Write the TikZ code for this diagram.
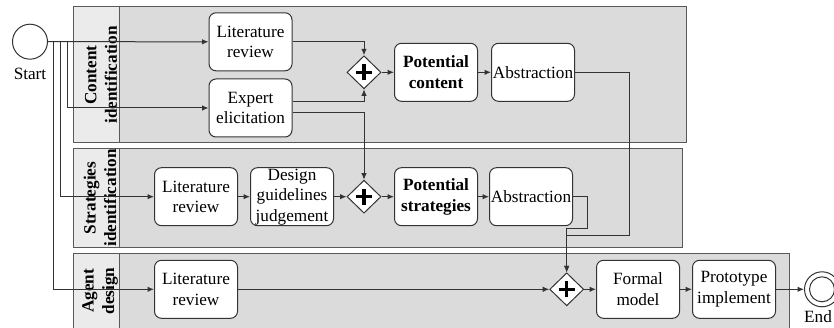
\documentclass[tikz,border=0pt]{standalone}
\usepackage{fontspec}
\setmainfont{Liberation Serif}
\usetikzlibrary{shapes.geometric,arrows.meta}

\definecolor{lanefill}{gray}{0.86}
\definecolor{headfill}{gray}{0.92}
\definecolor{laneline}{gray}{0.35}
\definecolor{flowline}{gray}{0.2}

\begin{document}
\begin{tikzpicture}[x=1pt,y=-1pt]
    \fontsize{17.2}{20.5}\selectfont
    \useasboundingbox (0,0) rectangle (834,328);

    \tikzstyle{lane}=[fill=lanefill,draw=laneline,line width=1pt]
    \tikzstyle{lanehead}=[fill=headfill,draw=laneline,line width=1pt]
    \tikzstyle{lanetitle}=[rotate=90,align=center,font=\bfseries,inner sep=0pt]
    \tikzstyle{task}=[draw=flowline,fill=white,rounded corners=7pt,line width=1pt,
        minimum width=83pt,minimum height=58pt,inner sep=0pt,align=center]
    \tikzstyle{gateway}=[diamond,draw=flowline,fill=white,line width=1pt,
        minimum width=34pt,minimum height=33pt,inner sep=0pt,
        path picture={\draw[line width=3.5pt,black]
            ([xshift=-8pt]path picture bounding box.center) -- ([xshift=8pt]path picture bounding box.center)
            ([yshift=-8pt]path picture bounding box.center) -- ([yshift=8pt]path picture bounding box.center);}]
    \tikzstyle{event}=[circle,draw=flowline,fill=white,line width=1pt,minimum size=35pt,inner sep=0pt]

    % lanes
    \draw [lane] (73,7) rectangle (686,143);
    \draw [lanehead] (73,7) rectangle (119,143);
    \draw [lane] (73,148.3) rectangle (682.7,247.7);
    \draw [lanehead] (73,148.3) rectangle (119,247.7);
    \draw [lane] (73,253.3) rectangle (789,345);
    \draw [lanehead] (73,253.3) rectangle (119,345);

    \node[lanetitle] (headA) at (101,75) {Content\\identification};
    \node[lanetitle] (headB) at (100,198) {Strategies\\identification};
    \node[lanetitle] (headC) at (100,291) {Agent\\design};

    % events
    \node[event]  (start) at (30,41.7) {};
    \node         (startlbl) at (30,74) {Start};
    \node[event]  (finish) at (822,289.3) {};
    \node[circle,draw=flowline,line width=1pt,minimum size=25pt] (finishin) at (finish) {};
    \node         (finishlbl) at (818,317) {End};

    % content identification
    \node[task]  (litA) at (250.5,41.8) {Literature\\review};
    \node[task]  (expert) at (250.5,108) {Expert\\elicitation};
    \node[gateway]  (joinA) at (364,72.3) {};
    \node[task]  (potcontent) at (436,72.3) {\bfseries Potential\\\bfseries content};
    \node[task]  (abstrA) at (533,72.3) {Abstraction};

    % strategies identification
    \node[task]  (litB) at (196,196.7) {Literature\\review};
    \node[task]  (design) at (292,196.7) {Design\\guidelines\\judgement};
    \node[gateway]  (joinB) at (364,196.7) {};
    \node[task]  (potstrat) at (436,196.7) {\bfseries Potential\\\bfseries strategies};
    \node[task]  (abstrB) at (531,196.7) {Abstraction};

    % agent design
    \node[task]  (litC) at (196,289.3) {Literature\\review};
    \node[gateway]  (joinC) at (566.7,289.3) {};
    \node[task]  (formal) at (638,289.3) {Formal\\model};
    \node[task]  (proto) at (734,289.3) {Prototype\\implement};

    \pgfsetarrowsend{Latex[length=6.5pt,width=5.5pt]}
    \tikzstyle{fwd} = [draw=flowline, line width=1pt]

          \draw [fwd] (start.east) -- (litA.west);
          \draw [fwd] (start.east) -- ++(19.7,0) |- (expert.west);
          \draw [fwd] (start.east) -- ++(12.7,0) |- (litB.west);
          \draw [fwd] (start.east) -- ++(5.7,0) |- (litC.west);
          \draw [fwd] (litA.east) -| (joinA.north);
          \draw [fwd] ([yshift=6.3pt]expert.east) -| (joinA.south);
          \draw [fwd] ([yshift=-4.3pt]expert.east) -| (joinB.north);
          \draw [fwd] (joinA) -- (potcontent);
          \draw [fwd] (potcontent) -- (abstrA);
          \draw [fwd] (abstrA.east) -- ++(54,0) -- ++(0,163.2) -| (joinC.north);
          \draw [fwd] (litB) -- (design);
          \draw [fwd] (design) -- (joinB);
          \draw [fwd] (joinB) -- (potstrat);
          \draw [fwd] (potstrat) -- (abstrB);
          \draw [fwd] (abstrB.east) -- ++(14,0) -- ++(0,31.6) -| (joinC.north);
          \draw [fwd] (litC) -- (joinC);
          \draw [fwd] (joinC) -- (formal);
          \draw [fwd] (formal) -- (proto);
          \draw [fwd] (proto) -- (finish);
  \end{tikzpicture}
\end{document}
